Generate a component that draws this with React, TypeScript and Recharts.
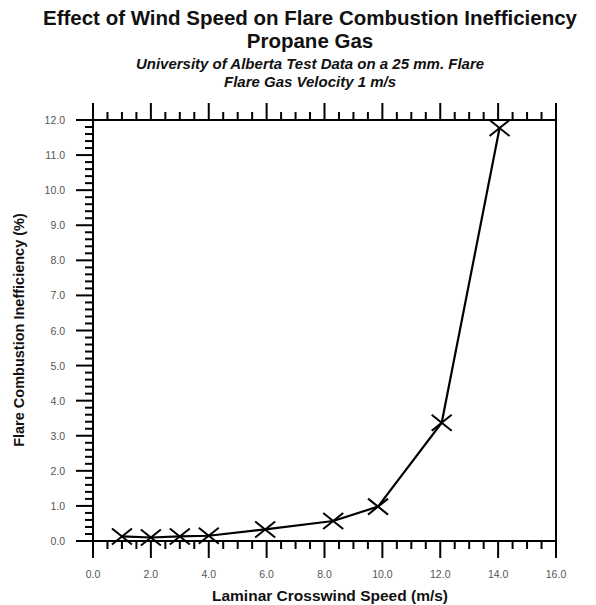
import React from "react"
import { Line, LineChart, XAxis, YAxis } from "recharts"

// wind speed (m/s) vs combustion inefficiency (%)
const windSpeed = [1.0, 2.0, 3.0, 4.0, 5.95, 8.3, 9.85, 12.05, 14.05]
const inefficiency = [0.13, 0.1, 0.13, 0.15, 0.33, 0.57, 0.98, 3.37, 11.77]

const xMajor = [0, 2, 4, 6, 8, 10, 12, 14, 16]
const yMajor = [0, 1, 2, 3, 4, 5, 6, 7, 8, 9, 10, 11, 12]

const range = (max: number, step: number) => {
   const out: number[] = []
   for (let i = 0; i * step <= max + 1e-9; i++) out.push(+(i * step).toFixed(2))
   return out
}
const xTicks = range(16, 0.5)
const yTicks = range(12, 0.2)

const data = windSpeed.map((speed, i) => ({ speed, value: inefficiency[i] }))

const isMajor = (v: number, majors: number[]) =>
   majors.some((m) => Math.abs(m - v) < 1e-6)

const labelFont = "'Liberation Sans', Arial, sans-serif"

const TickMark = ({ x, y, payload, side }: any) => {
   const v = payload.value
   const major = isMajor(v, side === "top" || side === "bottom" ? xMajor : yMajor)
   const len = major ? 17 : 8
   let x2 = x
   let y2 = y
   if (side === "bottom") y2 = y + len
   if (side === "top") y2 = y - len
   if (side === "left") x2 = x - len
   if (side === "right") x2 = x + len
   return (
      <g>
         <line x1={x} y1={y} x2={x2} y2={y2} stroke="#000" strokeWidth={2} />
         {major && side === "bottom" && (
            <text
               x={x}
               y={y + 37}
               textAnchor="middle"
               fontSize={10.5}
               fill="#555"
               fontFamily={labelFont}
            >
               {v.toFixed(1)}
            </text>
         )}
         {major && side === "left" && (
            <text
               x={x - 28}
               y={y + 4}
               textAnchor="end"
               fontSize={10.5}
               fill="#555"
               fontFamily={labelFont}
            >
               {v.toFixed(1)}
            </text>
         )}
      </g>
   )
}

const CrossDot = ({ cx, cy }: any) => (
   <g stroke="#000" strokeWidth={2}>
      <line x1={cx - 10} y1={cy - 8} x2={cx + 10} y2={cy + 8} />
      <line x1={cx - 10} y1={cy + 8} x2={cx + 10} y2={cy - 8} />
   </g>
)

const axisLine = { stroke: "#000", strokeWidth: 2 }

export default function App() {
   return (
      <div
         style={{
            position: "relative",
            width: 596,
            height: 605,
            background: "#fff",
            fontFamily: labelFont,
            overflow: "hidden",
         }}
      >
         <style>{"body{margin:0}"}</style>
         <div
            style={{
               position: "absolute",
               left: 24,
               width: 572,
               top: 6,
               textAlign: "center",
               fontSize: 20.5,
               fontWeight: "bold",
               lineHeight: "23px",
               color: "#111",
            }}
         >
            Effect of Wind Speed on Flare Combustion Inefficiency
            <br />
            Propane Gas
         </div>
         <div
            style={{
               position: "absolute",
               left: 24,
               width: 572,
               top: 55,
               textAlign: "center",
               fontSize: 15,
               fontWeight: "bold",
               fontStyle: "italic",
               lineHeight: "18px",
               color: "#111",
            }}
         >
            University of Alberta Test Data on a 25 mm. Flare
            <br />
            Flare Gas Velocity 1 m/s
         </div>
         <LineChart
            width={596}
            height={605}
            data={data}
            margin={{ top: 0, right: 0, bottom: 0, left: 0 }}
         >
            <XAxis
               xAxisId="bottom"
               dataKey="speed"
               type="number"
               domain={[0, 16]}
               ticks={xTicks}
               interval={0}
               height={64}
               tickSize={0}
               tickMargin={0}
               axisLine={axisLine}
               tick={(p: any) => <TickMark {...p} side="bottom" />}
            />
            <XAxis
               xAxisId="top"
               orientation="top"
               dataKey="speed"
               type="number"
               domain={[0, 16]}
               ticks={xTicks}
               interval={0}
               height={120}
               tickSize={0}
               tickMargin={0}
               axisLine={axisLine}
               tick={(p: any) => <TickMark {...p} side="top" />}
            />
            <YAxis
               yAxisId="left"
               type="number"
               domain={[0, 12]}
               ticks={yTicks}
               interval={0}
               width={93}
               tickSize={0}
               tickMargin={0}
               axisLine={axisLine}
               tick={(p: any) => <TickMark {...p} side="left" />}
            />
            <YAxis
               yAxisId="right"
               orientation="right"
               type="number"
               domain={[0, 12]}
               ticks={yTicks}
               interval={0}
               width={40}
               tickSize={0}
               tickMargin={0}
               axisLine={axisLine}
               tick={(p: any) => <TickMark {...p} side="right" />}
            />
            <Line
               xAxisId="bottom"
               yAxisId="left"
               type="linear"
               dataKey="value"
               stroke="#000"
               strokeWidth={2.2}
               dot={(p: any) => <CrossDot key={p.index} {...p} />}
               activeDot={false}
               isAnimationActive={false}
            />
         </LineChart>
         <div
            style={{
               position: "absolute",
               left: 330,
               top: 596,
               transform: "translate(-50%, -50%)",
               whiteSpace: "nowrap",
               fontSize: 15.5,
               fontWeight: "bold",
               color: "#111",
            }}
         >
            Laminar Crosswind Speed (m/s)
         </div>
         <div
            style={{
               position: "absolute",
               left: 19,
               top: 330,
               transform: "translate(-50%, -50%) rotate(-90deg)",
               whiteSpace: "nowrap",
               fontSize: 14.5,
               fontWeight: "bold",
               color: "#111",
            }}
         >
            Flare Combustion Inefficiency (%)
         </div>
      </div>
   )
}
